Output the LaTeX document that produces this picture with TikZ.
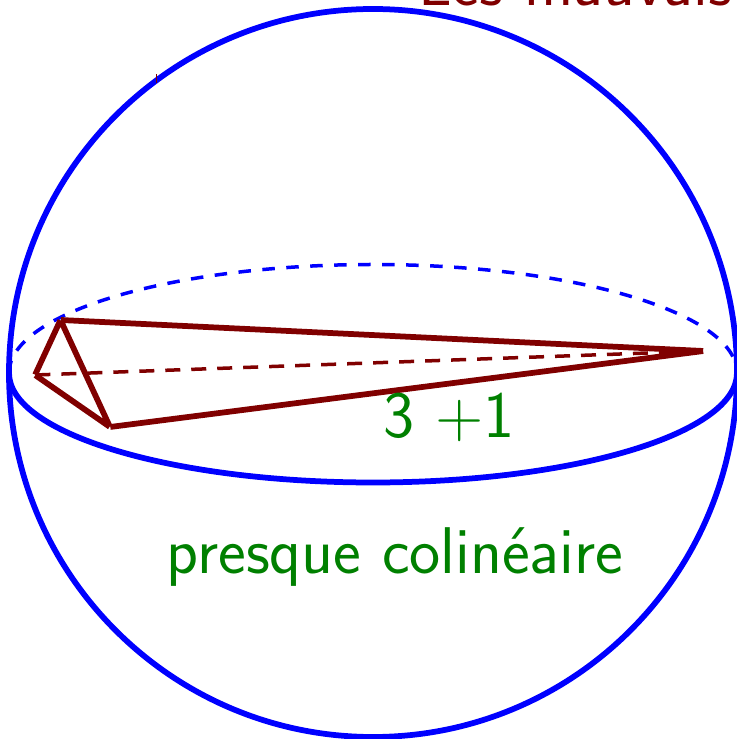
\documentclass[tikz,border=0pt]{standalone}
\usepackage{xcolor}
\definecolor{darkgreen}{rgb}{0,0.5,0}
\definecolor{darkred}{rgb}{0.5,0,0}
\begin{document}
\begin{tikzpicture}[>=latex]
    \tikzset{
        sphere/.style={draw=blue, line width=0.115cm},
        hidden/.style={draw=blue, line width=0.07cm, dash pattern=on 0.25cm off 0.23cm},
        solidedge/.style={draw=darkred, line width=0.115cm},
        hiddenedge/.style={draw=darkred, line width=0.07cm, dash pattern=on 0.3cm off 0.22cm},
        vertex/.style={inner sep=0pt, minimum size=0pt},
        label/.style={font=\sffamily\fontsize{37.6}{38}\selectfont, text=darkgreen, inner sep=0pt}
    }
    \useasboundingbox (0, 0) rectangle (14.72, 14.78);

    \node[inner sep=0pt, anchor=base west, font=\sffamily\fontsize{37.6}{38}\selectfont, text=darkred] (title) at (8.36, 14.67) {Les mauvais};

    \draw[sphere] (7.46, 7.32) circle (7.28);
    \draw[sphere] (0.18, 7.32) arc (180:360:7.28 and 2.19);
    \draw[hidden] (0.18, 7.32) arc (180:0:7.28 and 2.17);

    \node[vertex] (top) at (1.21, 8.38) {};
    \node[vertex] (left) at (0.70, 7.28) {};
    \node[vertex] (low) at (2.20, 6.24) {};
    \node[vertex] (far) at (14.07, 7.76) {};
    \node[vertex] (tickA) at (3.12, 13.30) {};
    \node[vertex] (tickB) at (3.12, 13.12) {};

    \draw[hiddenedge] (left) -- (far);
    \draw[solidedge] (top) -- (left) -- (low) -- (top) -- (far) -- (low);
    \draw[draw=darkred, line width=0.02cm] (tickA) -- (tickB);

    \node[label, anchor=base] (count) at (8.98, 6.02) {3 +1};
    \node[label, anchor=base] (caption) at (7.90, 3.3) {presque colinéaire};
\end{tikzpicture}
\end{document}
